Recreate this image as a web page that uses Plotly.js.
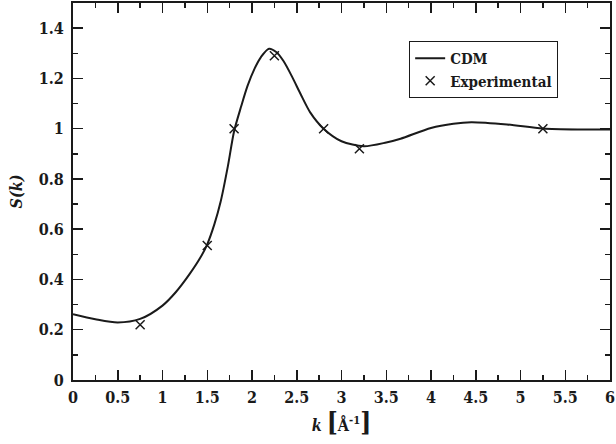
<!DOCTYPE html>
<html>
<head>
<meta charset="utf-8">
<script src="https://cdn.plot.ly/plotly-3.0.1.min.js"></script>
<style>html,body{margin:0;padding:0;background:#fff;}#chart{width:616px;height:444px;}</style>
</head>
<body>
<div id="chart"></div>
<script>
// CDM model curve S(k)
const curveK = [0, 0.25, 0.5, 0.75, 1.0, 1.15, 1.3, 1.42, 1.5, 1.58, 1.65, 1.73, 1.8, 1.88, 1.95, 2.03, 2.1, 2.19, 2.27, 2.35, 2.45, 2.54, 2.65, 2.8, 3.0, 3.25, 3.5, 3.66, 4.0, 4.25, 4.45, 4.85, 5.25, 5.67, 6.0];
const curveS = [0.262, 0.242, 0.229, 0.243, 0.296, 0.35, 0.42, 0.485, 0.54, 0.62, 0.71, 0.85, 0.99, 1.09, 1.17, 1.24, 1.285, 1.318, 1.305, 1.27, 1.205, 1.14, 1.065, 1.0, 0.95, 0.93, 0.945, 0.96, 1.003, 1.02, 1.026, 1.017, 1.001, 0.997, 0.997];
// Experimental points
const expK = [0.75, 1.5, 1.8, 2.25, 2.8, 3.2, 5.25];
const expS = [0.22, 0.535, 1.0, 1.29, 1.0, 0.92, 1.0];

const FONT = 'DejaVu Serif Condensed, DejaVu Serif';
const INK = '#1a1a1a';

const traces = [
  {x: curveK, y: curveS, mode: 'lines', name: 'CDM', line: {color: INK, width: 2, shape: 'spline', smoothing: 0.8}},
  {x: expK, y: expS, mode: 'markers', name: 'Experimental', marker: {symbol: 'x-thin-open', size: 9, line: {color: INK, width: 1.5}, color: INK}}
];

const axisCommon = {
  showgrid: false, zeroline: false, showline: true, linecolor: INK, linewidth: 2,
  mirror: 'allticks', ticks: 'inside', ticklen: 10, tickwidth: 1.5, tickcolor: INK,
  ticklabeloverflow: 'allow',
  tickfont: {family: FONT, size: 16, color: INK, weight: 'bold'}
};

const layout = {
  width: 616, height: 444,
  margin: {l: 73, r: 6, t: 3, b: 64},
  paper_bgcolor: '#fff', plot_bgcolor: '#fff',
  font: {family: FONT, color: INK},
  showlegend: true,
  legend: {x: 0.626, y: 0.899, xanchor: 'left', yanchor: 'top', bordercolor: INK, borderwidth: 1, bgcolor: '#fff',
           font: {family: FONT, size: 15, color: INK, weight: 'bold'}, tracegroupgap: 0, itemwidth: 30},
  xaxis: Object.assign({}, axisCommon, {
    range: [0, 6], tickvals: [0, 0.5, 1, 1.5, 2, 2.5, 3, 3.5, 4, 4.5, 5, 5.5, 6],
    ticktext: ['0', '0.5', '1', '1.5', '2', '2.5', '3', '3.5', '4', '4.5', '5', '5.5', '6'],
    ticklabelstandoff: 2,
    minor: {dtick: 0.25, ticks: 'inside', ticklen: 5, tickwidth: 1.5, tickcolor: INK, showgrid: false},
    title: {text: '<i>k</i> <span style="font-size:26px">[</span>Å<sup>-1</sup><span style="font-size:26px">]</span>',
            font: {family: FONT, size: 16, color: INK, weight: 'bold'}, standoff: 2}
  }),
  yaxis: Object.assign({}, axisCommon, {
    range: [0, 1.5], tickvals: [0, 0.2, 0.4, 0.6, 0.8, 1, 1.2, 1.4],
    ticktext: ['0', '0.2', '0.4', '0.6', '0.8', '1', '1.2', '1.4'],
    ticklabelstandoff: 4,
    minor: {dtick: 0.1, ticks: 'inside', ticklen: 5, tickwidth: 1.5, tickcolor: INK, showgrid: false},
    title: {text: '<i>S(k)</i>', font: {family: FONT, size: 16, color: INK, weight: 'bold'}, standoff: 12}
  })
};

Plotly.newPlot('chart', traces, layout, {staticPlot: true, displayModeBar: false});
</script>
</body>
</html>
